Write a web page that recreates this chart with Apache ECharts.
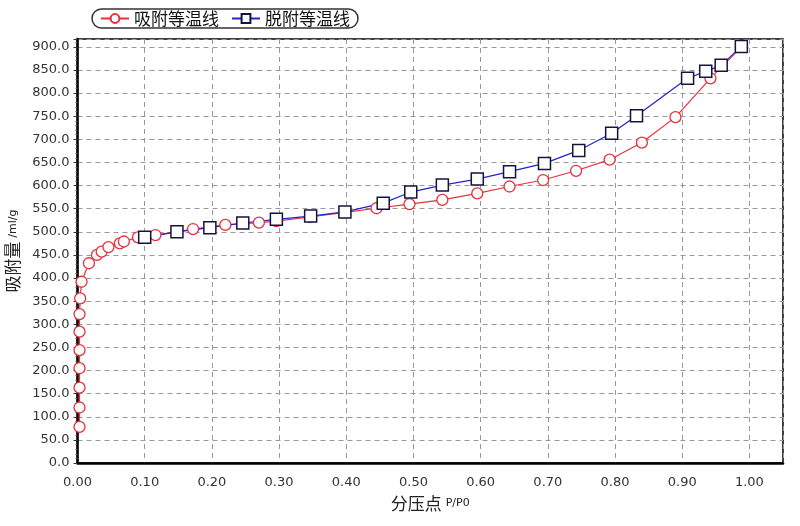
<!DOCTYPE html>
<html>
<head>
<meta charset="utf-8">
<script src="https://cdn.jsdelivr.net/npm/echarts@6/dist/echarts.min.js"></script>
<style>
    html,body{margin:0;padding:0;background:#fff;}
    #chart{width:800px;height:526px;}
</style>
</head>
<body>
<div id="chart"></div>
<script>
// 吸附等温线 (adsorption)
let adsX = [0.003,0.003,0.003,0.003,0.003,0.003,0.003,0.004,0.006,0.017,0.029,0.036,0.046,0.063,0.069,0.090,0.116,0.172,0.220,0.270,0.296,0.346,0.398,0.445,0.494,0.543,0.595,0.643,0.693,0.742,0.792,0.840,0.890,0.942,0.988];
let adsY = [78,120,163,205,244,284,322,356,392,432,450,457,467,475,479,488,493,506,515,520,523,532,542,551,560,569,583,598,612,632,656,693,748,832,900];
// 脱附等温线 (desorption)
let desX = [0.988,0.958,0.935,0.908,0.832,0.795,0.746,0.695,0.643,0.595,0.543,0.496,0.455,0.398,0.347,0.296,0.246,0.197,0.148,0.100];
let desY = [901,860,847,832,751,713,676,648,630,614,601,586,562,543,534,527,519,509,500,488];

let seriesNames = ['吸附等温线','脱附等温线'];

function pairs(xs,ys){
    return xs.map((x,i)=>[x,ys[i]]);
}

let chart = echarts.init(document.getElementById('chart'));
let fontColor = '#333';
let gridLine = {show:true,lineStyle:{color:'#999',type:[5,4],width:1}};

let option = {
    animation:false,
    backgroundColor:'#fff',
    textStyle:{fontFamily:'DejaVu Sans'},
    legend:{
        data:seriesNames,
        left:92,
        top:9,
        padding:[1,8,1,8],
        itemGap:12,
        itemWidth:28,
        itemHeight:11,
        borderColor:'#333',
        borderWidth:1.5,
        borderRadius:12,
        textStyle:{fontFamily:'Noto Sans CJK SC',fontSize:17,color:'#111'}
    },
    grid:{left:77.5,right:17,top:39,bottom:63,outerBoundsMode:'none',containLabel:false,show:true,borderColor:'#000',borderWidth:1.5},
    xAxis:{
        type:'value',
        min:0,
        max:1.05,
        interval:0.1,
        name:'{a|分压点} {b|P/P0}',
        nameLocation:'middle',
        nameGap:32,
        nameTextStyle:{
            rich:{
                a:{fontFamily:'Noto Sans CJK SC',fontSize:17,color:'#222'},
                b:{fontFamily:'DejaVu Sans',fontSize:11,color:'#222'}
            }
        },
        axisLine:{onZero:false,lineStyle:{color:'#000',width:2.5}},
        axisTick:{show:false},
        axisLabel:{color:fontColor,fontSize:13,margin:13,showMaxLabel:false,formatter:v=>v.toFixed(2)},
        splitLine:gridLine
    },
    yAxis:{
        type:'value',
        min:0,
        max:917,
        interval:50,
        name:'{a|吸附量} {b|/ml/g}',
        nameLocation:'middle',
        nameGap:55,
        nameTextStyle:{
            rich:{
                a:{fontFamily:'Noto Sans CJK SC',fontSize:17,color:'#222'},
                b:{fontFamily:'DejaVu Sans',fontSize:11,color:'#222'}
            }
        },
        axisLine:{show:true,onZero:false,lineStyle:{color:'#000',width:2.5}},
        axisTick:{show:true,length:4,lineStyle:{color:'#333'}},
        minorTick:{show:true,splitNumber:5,length:2,lineStyle:{color:'#555'}},
        axisLabel:{color:fontColor,fontSize:13,margin:8,showMaxLabel:false,formatter:v=>v.toFixed(1)},
        splitLine:gridLine
    },
    series:[{
        name:seriesNames[0],
        type:'line',
        data:pairs(adsX,adsY),
        symbol:'circle',
        symbolSize:11,
        showAllSymbol:true,
        lineStyle:{color:'#e8303a',width:1.2},
        itemStyle:{color:'#fff',borderColor:'#e8303a',borderWidth:1.3}
    },{
        name:seriesNames[1],
        type:'line',
        data:pairs(desX,desY),
        symbol:'rect',
        symbolSize:12,
        showAllSymbol:true,
        lineStyle:{color:'#2323d0',width:1.2},
        itemStyle:{color:'#fff',borderColor:'#14143c',borderWidth:1.5}
    }]
};
chart.setOption(option);
</script>
</body>
</html>
